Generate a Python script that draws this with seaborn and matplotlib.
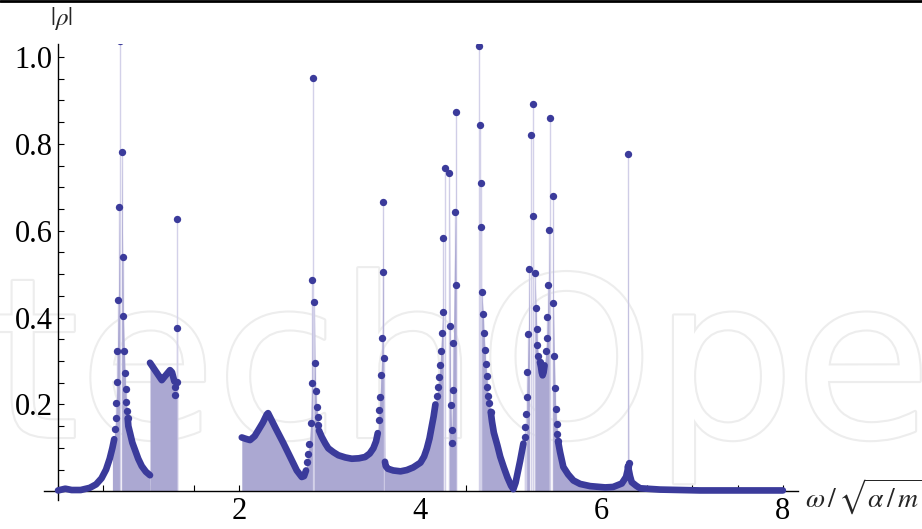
# %% Import packages

import numpy as np
import matplotlib
matplotlib.use('Agg')
import matplotlib.pyplot as plt
import matplotlib.patheffects as pe
from matplotlib.ticker import MultipleLocator
import seaborn as sns

# %% Data (omega / sqrt(alpha/m) vs |rho|)

# first resonance near 0.7
curve_a1_x = [0.0, 0.08, 0.15, 0.25, 0.35, 0.42, 0.48, 0.53, 0.57, 0.60, 0.62]
curve_a1_y = [0.002, 0.006, 0.003, 0.003, 0.008, 0.016, 0.03, 0.05, 0.075, 0.10, 0.12]
dots_a_x = [0.629, 0.637, 0.643, 0.651, 0.655, 0.666, 0.677, 0.684, 0.703, 0.714, 0.721,
            0.732, 0.740, 0.747, 0.754, 0.762, 0.769]
dots_a_y = [0.143, 0.168, 0.203, 0.251, 0.323, 0.440, 0.654, 1.036, 0.781, 0.539, 0.403,
            0.323, 0.272, 0.235, 0.205, 0.184, 0.168]
curve_a2_x = [0.769, 0.776, 0.795, 0.82, 0.85, 0.885, 0.924, 0.97, 1.015]
curve_a2_y = [0.168, 0.150, 0.134, 0.112, 0.095, 0.075, 0.058, 0.045, 0.037]

# block between 1.0 and 1.3
curve_b_x = [1.015, 1.07, 1.145, 1.18, 1.236, 1.258, 1.284]
curve_b_y = [0.296, 0.279, 0.256, 0.265, 0.279, 0.274, 0.253]
dots_b_x = [1.290, 1.292, 1.312, 1.317, 1.317]
dots_b_y = [0.240, 0.221, 0.252, 0.376, 0.627]

# band from 2.0 to 3.6
curve_c1_x = [2.028, 2.07, 2.119, 2.17, 2.211, 2.26, 2.304, 2.318, 2.40, 2.487, 2.56,
              2.635, 2.69, 2.715, 2.737]
curve_c1_y = [0.124, 0.121, 0.118, 0.127, 0.141, 0.158, 0.177, 0.180, 0.146, 0.111, 0.080,
              0.048, 0.033, 0.035, 0.048]
dots_c1_x = [2.751, 2.763, 2.774, 2.789, 2.800, 2.807, 2.818, 2.829, 2.837, 2.844, 2.855,
             2.866, 2.873]
dots_c1_y = [0.068, 0.085, 0.110, 0.157, 0.249, 0.486, 0.952, 0.435, 0.296, 0.231, 0.194,
             0.170, 0.152]
curve_c2_x = [2.880, 2.911, 2.95, 2.983, 3.04, 3.094, 3.17, 3.242, 3.32, 3.389, 3.44, 3.48,
              3.51, 3.529]
curve_c2_y = [0.140, 0.125, 0.110, 0.099, 0.090, 0.083, 0.078, 0.075, 0.076, 0.079, 0.087,
              0.099, 0.115, 0.134]
dots_c2_x = [3.543, 3.546, 3.554, 3.565, 3.579, 3.584, 3.590, 3.601]
dots_c2_y = [0.164, 0.187, 0.217, 0.267, 0.352, 0.505, 0.666, 0.306]

# band from 3.6 to 4.4
curve_d_x = [3.608, 3.617, 3.64, 3.70, 3.78, 3.85, 3.92, 4.00, 4.04, 4.07, 4.10, 4.125,
             4.145, 4.165]
curve_d_y = [0.068, 0.058, 0.052, 0.048, 0.046, 0.049, 0.055, 0.066, 0.080, 0.098, 0.122,
             0.150, 0.172, 0.200]
dots_d_x = [4.180, 4.197, 4.208, 4.216, 4.224, 4.235, 4.246, 4.249, 4.272, 4.319, 4.327,
            4.334, 4.345, 4.345, 4.357, 4.363, 4.382, 4.388, 4.393]
dots_d_y = [0.220, 0.240, 0.263, 0.290, 0.323, 0.364, 0.414, 0.583, 0.744, 0.734, 0.380,
            0.198, 0.142, 0.111, 0.233, 0.342, 0.644, 0.475, 0.874]

# band from 4.65 to 5.55
dots_e1_x = [4.650, 4.658, 4.665, 4.672, 4.677, 4.694, 4.702, 4.713, 4.721, 4.732, 4.738,
             4.749, 4.760, 4.776]
dots_e1_y = [1.025, 0.844, 0.710, 0.608, 0.459, 0.408, 0.364, 0.325, 0.293, 0.265, 0.240,
             0.219, 0.203, 0.183]
curve_e_x = [4.776, 4.79, 4.81, 4.85, 4.88, 4.92, 4.96, 5.00, 5.025, 5.05, 5.08, 5.10,
             5.118, 5.136]
curve_e_y = [0.183, 0.160, 0.135, 0.105, 0.080, 0.055, 0.032, 0.013, 0.005, 0.020, 0.050,
             0.070, 0.090, 0.110]
dots_e2_x = [5.151, 5.158, 5.166, 5.173, 5.180, 5.191, 5.202, 5.221, 5.243, 5.243, 5.265,
             5.276, 5.284, 5.290, 5.301, 5.320]
dots_e2_y = [0.125, 0.147, 0.177, 0.217, 0.275, 0.363, 0.513, 0.820, 0.892, 0.634, 0.502,
             0.423, 0.373, 0.338, 0.312, 0.297]
curve_e3_x = [5.320, 5.331, 5.339, 5.348, 5.359, 5.370]
curve_e3_y = [0.297, 0.286, 0.274, 0.267, 0.274, 0.290]
dots_e3_x = [5.386, 5.394, 5.401, 5.412, 5.419, 5.430, 5.460, 5.467, 5.478, 5.486, 5.493,
             5.504, 5.511, 5.519]
dots_e3_y = [0.322, 0.353, 0.401, 0.475, 0.601, 0.859, 0.680, 0.434, 0.311, 0.239, 0.190,
             0.156, 0.132, 0.115]

# tail up to 8 with small resonance at 6.3
curve_f_x = [5.519, 5.541, 5.577, 5.63, 5.688, 5.762, 5.872, 6.038, 6.126, 6.222, 6.269,
             6.286, 6.291, 6.313, 6.332, 6.38, 6.424, 6.645, 7.086, 7.5, 8.0]
curve_f_y = [0.115, 0.090, 0.056, 0.039, 0.025, 0.017, 0.012, 0.009, 0.010, 0.018, 0.033,
             0.048, 0.058, 0.035, 0.021, 0.013, 0.007, 0.004, 0.002, 0.002, 0.002]
dots_f_x = [6.286, 6.299, 6.291]
dots_f_y = [0.059, 0.065, 0.776]

# x ranges that are shaded down to the axis
fill_spans = [(0.60, 0.680), (0.700, 1.02), (1.01, 1.314), (2.02, 2.813), (2.823, 3.595),
              (3.600, 4.265), (4.295, 4.40), (4.675, 5.03), (5.17, 5.215), (5.248, 5.425),
              (5.45, 6.5)]

x_ticks = [2, 4, 6, 8]
y_ticks = [0.2, 0.4, 0.6, 0.8, 1.0]
y_tick_labels = ['0.2', '0.4', '0.6', '0.8', '1.0']

# %% Set figure aesthetics

sns.set_theme(style='ticks')
plt.rcParams['font.family'] = ['Liberation Serif', 'DejaVu Serif']
plt.rcParams['mathtext.fontset'] = 'stix'

DOT = '#3b3b9b'
FILL = '#aba8d2'
STEM = '#d3d1e9'

curves = [(curve_a1_x, curve_a1_y), (curve_a2_x, curve_a2_y), (curve_b_x, curve_b_y),
          (curve_c1_x, curve_c1_y), (curve_c2_x, curve_c2_y), (curve_d_x, curve_d_y),
          (curve_e_x, curve_e_y), (curve_e3_x, curve_e3_y), (curve_f_x, curve_f_y)]
dots = [(dots_a_x, dots_a_y), (dots_b_x, dots_b_y), (dots_c1_x, dots_c1_y),
        (dots_c2_x, dots_c2_y), (dots_d_x, dots_d_y), (dots_e1_x, dots_e1_y),
        (dots_e2_x, dots_e2_y), (dots_e3_x, dots_e3_y), (dots_f_x, dots_f_y)]

# %% Plot

fig = plt.figure(figsize=(9.22, 5.29), dpi=100)
ax = fig.add_axes([44 / 922, 29 / 529, 754 / 922, 456 / 529])
ax.patch.set_visible(False)

# faint publisher watermark behind everything
ax.text(-8 / 922, 1 - 437 / 529, 'techOpen', transform=fig.transFigure, fontsize=160,
        family='DejaVu Sans', color='white', zorder=0, clip_on=False,
        path_effects=[pe.withStroke(linewidth=3, foreground='#ededed')])

all_x = np.concatenate([np.asarray(p[0], float) for p in curves + dots])
all_y = np.concatenate([np.asarray(p[1], float) for p in curves + dots])
order = np.argsort(all_x, kind='stable')
all_x, all_y = all_x[order], all_y[order]

for lo, hi in fill_spans:
    m = (all_x >= lo) & (all_x <= hi)
    ax.fill_between(all_x[m], 0, all_y[m], color=FILL, lw=0, zorder=2)

for dx, dy in dots:
    ax.vlines(dx, 0, dy, color=STEM, lw=1.0, zorder=1)

for cx, cy in curves:
    sns.lineplot(x=cx, y=cy, sort=False, estimator=None, color=DOT, lw=4.8, ax=ax,
                 zorder=3, solid_capstyle='round', solid_joinstyle='round')

for dx, dy in dots:
    sns.scatterplot(x=dx, y=dy, color=DOT, s=28, linewidth=0, ax=ax, zorder=4)

ax.set_xlim(-0.155, 8.167)
ax.set_ylim(-0.02, 1.03)

ax.spines[['top', 'right']].set_visible(False)
ax.spines['left'].set_position(('data', 0))
ax.spines['bottom'].set_position(('data', 0))
for s in ['left', 'bottom']:
    ax.spines[s].set_linewidth(1.0)
    ax.spines[s].set_color('black')

ax.set_xticks(x_ticks)
ax.set_xticklabels([str(t) for t in x_ticks])
ax.xaxis.set_minor_locator(MultipleLocator(0.5))
ax.set_yticks(y_ticks)
ax.set_yticklabels(y_tick_labels)
ax.yaxis.set_minor_locator(MultipleLocator(0.05))
ax.tick_params(which='both', direction='in', length=4.5, width=0.8, colors='black',
               labelsize=22, pad=4)

fig.text(61 / 922, 1 - 18 / 529, r'$|\rho|$', ha='center', va='center', fontsize=18)
fig.text(805 / 922, 1 - 497 / 529, r'$\omega\,/\,\sqrt{\alpha\,/\,m}$', ha='left',
         va='center', fontsize=20)

fig.add_artist(plt.Line2D([0, 1], [1 - 1.3 / 529] * 2, transform=fig.transFigure,
                          color='black', lw=2))

plt.savefig('out.png', dpi=100)
